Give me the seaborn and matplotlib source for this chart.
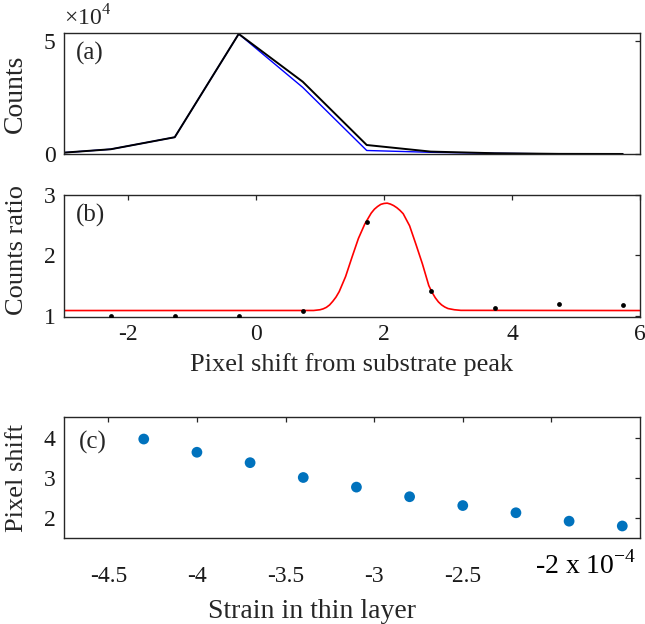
import matplotlib
matplotlib.use("Agg")
import matplotlib.pyplot as plt
import seaborn as sns
import pandas as pd
from matplotlib.ticker import FuncFormatter, FixedLocator

# ---------------- data ----------------
# (a) counts vs pixel shift
shift_a = [-3.27, -2.27, -1.27, -0.27, 0.73, 1.73, 2.73, 3.73, 4.73, 5.73]
counts_film = [50, 2100, 7400, 53000, 31900, 3970, 1060, 340, 60, 20]
counts_sub = [50, 2100, 7400, 53000, 29400, 1550, 750, 300, 50, 17]

# (b) counts ratio points and fitted curve
shift_b = [-2.27, -1.27, -0.27, 0.73, 1.73, 2.73, 3.73, 4.73, 5.73]
ratio_b = [1.00, 1.00, 0.99, 1.08, 2.56, 1.41, 1.13, 1.19, 1.18]
fit_x = [-3.0, 0.9, 1.0, 1.05, 1.1, 1.15, 1.2, 1.25, 1.3, 1.4, 1.5, 1.6, 1.7,
         1.8, 1.85, 1.9, 1.95, 2.0, 2.05, 2.1, 2.15, 2.2, 2.25, 2.3, 2.4, 2.5,
         2.6, 2.7, 2.75, 2.8, 2.85, 2.9, 2.95, 3.0, 3.1, 3.2, 6.0]
fit_y = [1.087, 1.088, 1.10, 1.115, 1.14, 1.18, 1.24, 1.31, 1.40, 1.65, 1.97,
         2.28, 2.52, 2.70, 2.765, 2.81, 2.845, 2.86, 2.865, 2.85, 2.825, 2.79,
         2.745, 2.69, 2.49, 2.18, 1.86, 1.50, 1.39, 1.30, 1.23, 1.18, 1.145,
         1.12, 1.10, 1.09, 1.087]

# (c) pixel shift vs strain
strain = [-4.3e-4, -4.0e-4, -3.7e-4, -3.4e-4, -3.1e-4, -2.8e-4, -2.5e-4,
          -2.2e-4, -1.9e-4, -1.6e-4]
pix_shift = [3.97, 3.64, 3.38, 3.01, 2.77, 2.53, 2.31, 2.13, 1.92, 1.80]
strain_ticks = [-4.5e-4, -4.0e-4, -3.5e-4, -3.0e-4, -2.5e-4, -2.0e-4]
strain_ticklabels = ["-4.5", "-4", "-3.5", "-3", "-2.5", ""]

# ---------------- style ----------------
sns.set_style("white")
plt.rcParams["font.family"] = ["Liberation Serif", "DejaVu Serif"]
plt.rcParams["mathtext.fontset"] = "custom"
plt.rcParams["mathtext.rm"] = "Liberation Serif"
plt.rcParams["axes.unicode_minus"] = False
spine_c = "#262626"

W, H = 645, 624
fig = plt.figure(figsize=(W / 100, H / 100), dpi=100)


def axes_px(x0, y0, x1, y1):
    return fig.add_axes([x0 / W, 1 - y1 / H, (x1 - x0) / W, (y1 - y0) / H])


axA = axes_px(64, 33, 640, 154)
axB = axes_px(64, 195, 640, 317)
axC = axes_px(64, 417, 640, 538)

for ax in (axA, axB, axC):
    for s in ax.spines.values():
        s.set_color(spine_c)
        s.set_linewidth(1.0)
    ax.tick_params(direction="in", length=3.5, width=0.9, color=spine_c,
                   top=True, right=True, labelsize=17, labelcolor="#1a1a1a")

# ---- (a) ----
dfa = pd.DataFrame({"shift": shift_a, "film": counts_film, "sub": counts_sub})
sns.lineplot(data=dfa, x="shift", y="sub", ax=axA, color="#0000FF", lw=1.0)
sns.lineplot(data=dfa, x="shift", y="film", ax=axA, color="black", lw=1.4)
axA.set_xlim(-3, 6)
axA.set_ylim(0, 53400)
axA.xaxis.set_major_locator(FixedLocator([]))
axA.yaxis.set_major_locator(FixedLocator([0, 50000]))
axA.yaxis.set_major_formatter(FuncFormatter(lambda v, p: f"{v / 1e4:g}"))
axA.tick_params(axis="y", pad=6)
axA.set_xlabel("")
axA.set_ylabel("Counts", fontsize=20)
axA.yaxis.set_label_coords(-0.062, 0.5)
axA.text(0.0, 1.02, r"$\times10^4$", transform=axA.transAxes, fontsize=17,
         ha="left", va="bottom")
axA.text(0.02, 0.83, "(a)", transform=axA.transAxes, fontsize=18,
         ha="left", va="center")

# ---- (b) ----
dfb = pd.DataFrame({"shift": shift_b, "ratio": ratio_b})
dff = pd.DataFrame({"x": fit_x, "y": fit_y})
sns.lineplot(data=dff, x="x", y="y", ax=axB, color="#FF0000", lw=1.2)
sns.scatterplot(data=dfb, x="shift", y="ratio", ax=axB, color="black", s=12,
                edgecolor="black", linewidth=0, zorder=5)
axB.set_xlim(-3, 6)
axB.set_ylim(0.98, 3)
axB.xaxis.set_major_locator(FixedLocator([-2, 0, 2, 4, 6]))
axB.yaxis.set_major_locator(FixedLocator([1, 2, 3]))
axB.tick_params(axis="y", pad=6)
axB.tick_params(axis="x", pad=5)
axB.set_xlabel("Pixel shift from substrate peak", fontsize=19, labelpad=6)
axB.set_ylabel("Counts ratio", fontsize=19)
axB.yaxis.set_label_coords(-0.062, 0.55)
axB.text(0.02, 0.83, "(b)", transform=axB.transAxes, fontsize=18,
         ha="left", va="center")

# ---- (c) ----
dfc = pd.DataFrame({"strain": strain, "pix": pix_shift})
sns.scatterplot(data=dfc, x="strain", y="pix", ax=axC, color="#0072BD", s=60,
                edgecolor="none", zorder=5)
axC.set_xlim(-4.75e-4, -1.5e-4)
axC.set_ylim(1.5, 4.52)
axC.xaxis.set_major_locator(FixedLocator(strain_ticks))
axC.set_xticklabels(strain_ticklabels)
axC.yaxis.set_major_locator(FixedLocator([2, 3, 4]))
axC.tick_params(axis="y", pad=6)
axC.tick_params(axis="x", pad=20)
fig.text(535 / W, 1 - 551 / H, r"-2 x 10$^{\mathregular{-4}}$", fontsize=20,
         ha="left", va="top", color="black")
axC.set_xlabel("Strain in thin layer", fontsize=20)
axC.xaxis.set_label_coords(0.43, -0.50)
axC.set_ylabel("Pixel shift", fontsize=19)
axC.yaxis.set_label_coords(-0.062, 0.5)
axC.text(0.025, 0.79, "(c)", transform=axC.transAxes, fontsize=18,
         ha="left", va="center")

fig.savefig("out.png", dpi=100)
